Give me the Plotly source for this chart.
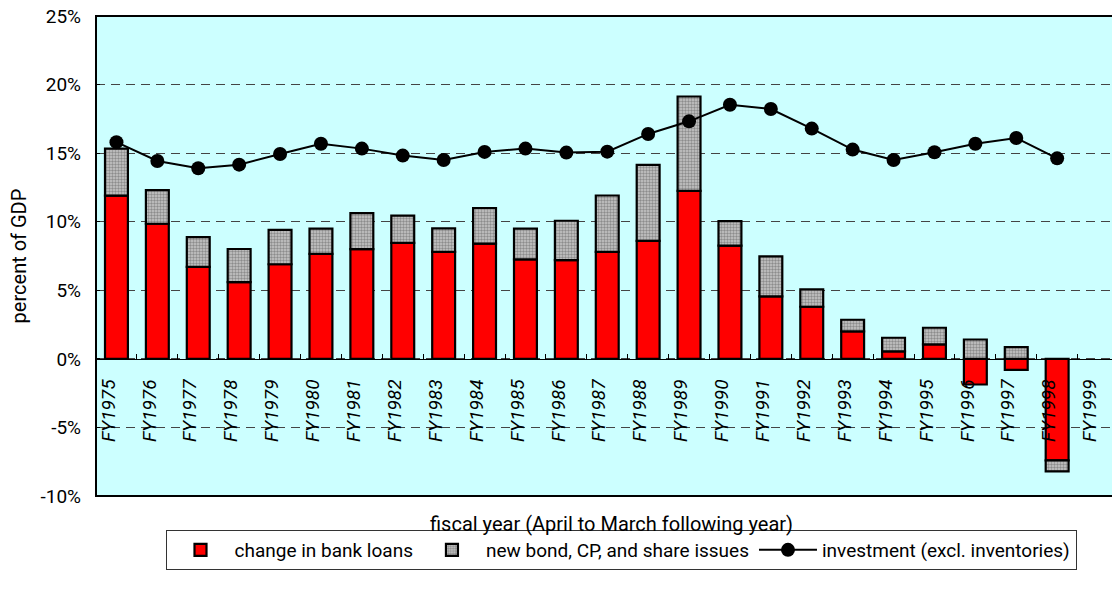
import plotly.graph_objects as go

years = ["FY1975", "FY1976", "FY1977", "FY1978", "FY1979", "FY1980", "FY1981",
         "FY1982", "FY1983", "FY1984", "FY1985", "FY1986", "FY1987", "FY1988",
         "FY1989", "FY1990", "FY1991", "FY1992", "FY1993", "FY1994", "FY1995",
         "FY1996", "FY1997", "FY1998", "FY1999"]

bank_loans = [11.9, 9.85, 6.7, 5.6, 6.9, 7.65, 8.0, 8.45, 7.8, 8.4, 7.25, 7.2,
              7.8, 8.6, 12.25, 8.25, 4.55, 3.8, 2.0, 0.55, 1.05, -1.87, -0.8,
              -7.4, None]

bond_cp_shares = [3.43, 2.45, 2.18, 2.41, 2.5, 1.85, 2.62, 1.99, 1.72, 2.6, 2.24,
                  2.87, 4.11, 5.54, 6.88, 1.79, 2.92, 1.26, 0.85, 0.99, 1.22,
                  1.41, 0.85, -0.8, None]

investment = [15.8, 14.43, 13.9, 14.16, 14.94, 15.69, 15.33, 14.82, 14.5, 15.09,
              15.33, 15.04, 15.11, 16.4, 17.32, 18.53, 18.22, 16.79, 15.26, 14.5,
              15.06, 15.69, 16.1, 14.62, None]

y_ticks = [-10, -5, 0, 5, 10, 15, 20, 25]
y_tick_labels = [f"{v}%" for v in y_ticks]

FONT = "Roboto"

fig = go.Figure()
fig.add_trace(go.Bar(
    x=years, y=bank_loans, name="change in bank loans",
    marker=dict(color="#FF0000", line=dict(color="black", width=2.2)),
))
fig.add_trace(go.Bar(
    x=years, y=bond_cp_shares, name="new bond, CP, and share issues",
    marker=dict(color="#A8A8A8", line=dict(color="black", width=2.2),
                pattern=dict(shape=".", size=3, solidity=0.5,
                             fgcolor="#505050", bgcolor="#C8C8C8")),
))
fig.add_trace(go.Scatter(
    x=years, y=investment, name="investment (excl. inventories)",
    mode="lines+markers",
    line=dict(color="black", width=2),
    marker=dict(color="black", size=14),
))

plot_top, plot_bottom = 16, 496
W, H = 1112, 592
ml = 96
ymin, ymax = -10, 25

fig.update_layout(
    width=W, height=H,
    margin=dict(l=ml, r=0, t=plot_top, b=H - plot_bottom),
    barmode="relative",
    bargap=0.44,
    plot_bgcolor="#CCFFFF",
    paper_bgcolor="white",
    font=dict(family=FONT, size=19, color="black"),
    showlegend=True,
    legend=dict(
        orientation="h", traceorder="normal",
        x=(621 - ml) / (W - ml), xanchor="center",
        y=(plot_bottom - 550) / (plot_bottom - plot_top), yanchor="middle",
        bordercolor="#333333", borderwidth=1, bgcolor="white",
        font=dict(family=FONT, size=19), itemwidth=58,
    ),
    xaxis=dict(
        type="category",
        range=[-0.5, -0.5 + (W - ml) / 40.9],
        anchor="free",
        position=(0 - ymin) / (ymax - ymin),
        showline=True, linecolor="black", linewidth=1,
        ticks="inside", ticklen=5, tickcolor="black", tickwidth=1,
        tickson="boundaries",
        tickangle=-90,
        tickfont=dict(family=FONT, size=19, style="italic"),
        ticklabelstandoff=12,
        ticklabelshift=-8,
        showgrid=False,
        layer="above traces",
    ),
    yaxis=dict(
        range=[ymin, ymax],
        tickvals=y_ticks, ticktext=y_tick_labels,
        showgrid=True, gridcolor="#444444", gridwidth=1, griddash="9px,6px",
        zeroline=False,
        ticks="inside", ticklen=4, tickcolor="black",
        tickfont=dict(family=FONT, size=19),
        ticklabelstandoff=14,
        title=dict(text="percent of GDP", font=dict(family=FONT, size=20), standoff=8),
    ),
    shapes=[dict(type="rect", xref="paper", yref="paper", x0=0, x1=1.02, y0=0, y1=1,
                 line=dict(color="black", width=2), fillcolor="rgba(0,0,0,0)",
                 layer="above")],
    annotations=[dict(text="fiscal year (April to March following year)",
                      xref="paper", yref="paper",
                      x=(611 - ml) / (W - ml),
                      y=(plot_bottom - 524) / (plot_bottom - plot_top),
                      xanchor="center", yanchor="middle", showarrow=False,
                      font=dict(family=FONT, size=20))],
)

fig.write_html("out.html", config={"displayModeBar": False},
               post_script="document.body.style.margin='0';")
